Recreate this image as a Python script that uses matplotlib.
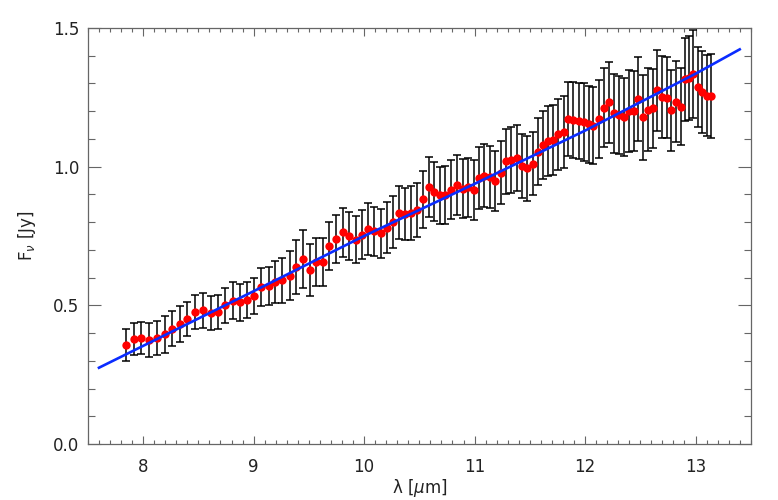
import numpy as np
from matplotlib import pyplot as plt

wave = [7.844, 7.913, 7.982, 8.054, 8.126, 8.196, 8.265, 8.334, 8.400, 8.472,
        8.541, 8.610, 8.676, 8.743, 8.809, 8.875, 8.941, 9.007, 9.070,
        9.136, 9.197, 9.260, 9.326, 9.386, 9.446, 9.509, 9.566, 9.627, 9.686,
        9.747, 9.807, 9.864, 9.924, 9.981, 10.035, 10.092, 10.150, 10.204, 10.258,
        10.312, 10.366,
        10.423, 10.477, 10.531, 10.583, 10.633, 10.684, 10.736, 10.790, 10.840, 10.892,
        10.940, 10.991, 11.036, 11.088, 11.138, 11.187, 11.237, 11.286, 11.334, 11.381,
        11.430, 11.478, 11.526, 11.571, 11.616, 11.665, 11.710, 11.755,
        11.805, 11.850, 11.895, 11.944, 11.989, 12.034, 12.076, 12.124, 12.170, 12.215,
        12.260, 12.305, 12.350, 12.395, 12.440, 12.482, 12.524, 12.569, 12.611, 12.653,
        12.695, 12.738, 12.779, 12.821, 12.864, 12.905, 12.941, 12.981, 13.020, 13.062,
        13.101, 13.140]

# flux density (Jy)
flux = [0.356, 0.379, 0.382, 0.375, 0.383, 0.395, 0.416, 0.432, 0.450, 0.477,
        0.483, 0.471, 0.476, 0.501, 0.517, 0.511, 0.518, 0.533, 0.566,
        0.570, 0.584, 0.590, 0.607, 0.638, 0.666, 0.626, 0.656, 0.655, 0.714,
        0.739, 0.763, 0.750, 0.736, 0.755, 0.775, 0.767, 0.760, 0.780, 0.800,
        0.834, 0.828,
        0.834, 0.844, 0.883, 0.927, 0.910, 0.897, 0.898, 0.917, 0.935, 0.921,
        0.926, 0.915, 0.959, 0.968, 0.962, 0.948, 0.978, 1.019, 1.024, 1.031,
        1.001, 0.994, 1.011, 1.054, 1.077, 1.094, 1.096, 1.117,
        1.125, 1.172, 1.168, 1.164, 1.160, 1.153, 1.148, 1.173, 1.213, 1.232,
        1.193, 1.186, 1.178, 1.200, 1.200, 1.244, 1.178, 1.206, 1.210, 1.275,
        1.250, 1.249, 1.203, 1.234, 1.216, 1.315, 1.319, 1.334, 1.286, 1.270,
        1.256, 1.255]

# 1 sigma errors (Jy)
err = [0.058, 0.057, 0.059, 0.060, 0.061, 0.066, 0.064, 0.064, 0.062, 0.061,
       0.063, 0.061, 0.061, 0.063, 0.066, 0.066, 0.065, 0.066, 0.067,
       0.069, 0.076, 0.081, 0.089, 0.097, 0.104, 0.094, 0.088, 0.086, 0.085,
       0.085, 0.089, 0.087, 0.085, 0.087, 0.095, 0.088, 0.089, 0.091, 0.093,
       0.096, 0.094,
       0.097, 0.098, 0.103, 0.107, 0.106, 0.103, 0.103, 0.106, 0.108, 0.106,
       0.107, 0.108, 0.111, 0.113, 0.111, 0.108, 0.113, 0.118, 0.119, 0.118,
       0.115, 0.116, 0.114, 0.121, 0.123, 0.126, 0.126, 0.128,
       0.130, 0.135, 0.136, 0.137, 0.140, 0.138, 0.139, 0.140, 0.143, 0.145,
       0.142, 0.140, 0.140, 0.147, 0.144, 0.150, 0.154, 0.148, 0.143, 0.146,
       0.148, 0.145, 0.145, 0.146, 0.139, 0.150, 0.152, 0.159, 0.144, 0.147,
       0.146, 0.150]

# fitted model, nodes
fit_wave = [7.60, 9.0, 10.0, 11.0, 12.0, 13.0, 13.40]
fit_flux = [0.275, 0.551, 0.750, 0.938, 1.130, 1.335, 1.423]

plt.rcParams['font.family'] = 'DejaVu Sans'
txt = '#222222'
edge = '#666666'

fig = plt.figure(figsize=(7.78, 5.0), dpi=100)
ax = fig.add_axes([0.113, 0.112, 0.852, 0.832])

ax.errorbar(wave, flux, yerr=err, fmt='none', ecolor='black', elinewidth=1.1,
            capsize=2.6, capthick=1.1, zorder=2)
ax.plot(wave, flux, 'o', color='#ff0000', ms=6.0, mec='none', zorder=3)
ax.plot(fit_wave, fit_flux, color='#0a2cff', lw=1.9, zorder=4)

ax.set_xlim(7.5, 13.5)
ax.set_ylim(0.0, 1.5)
ax.set_xticks([8, 9, 10, 11, 12, 13])
ax.set_xticks(np.arange(7.5, 13.51, 0.1), minor=True)
ax.set_yticks([0.0, 0.5, 1.0, 1.5])
ax.set_yticks(np.arange(0.0, 1.51, 0.1), minor=True)
ax.set_yticklabels(['0.0', '0.5', '1.0', '1.5'])

for s in ax.spines.values():
    s.set_color(edge)
    s.set_linewidth(0.9)

ax.tick_params(axis='both', which='both', direction='in', top=True, right=True,
               color=edge, width=0.8, labelcolor=txt, labelsize=12)
ax.tick_params(axis='x', which='major', length=5.8, pad=10)
ax.tick_params(axis='x', which='minor', length=2.9)
ax.tick_params(axis='y', which='major', length=9.4, pad=6)
ax.tick_params(axis='y', which='minor', length=5.0)

ax.set_xlabel(r'λ [$\mu$m]', fontsize=12, color=txt, labelpad=1)
ax.set_ylabel(r'F$_\nu$ [Jy]', fontsize=12, color=txt, labelpad=11)

fig.savefig('out.png', dpi=100)
